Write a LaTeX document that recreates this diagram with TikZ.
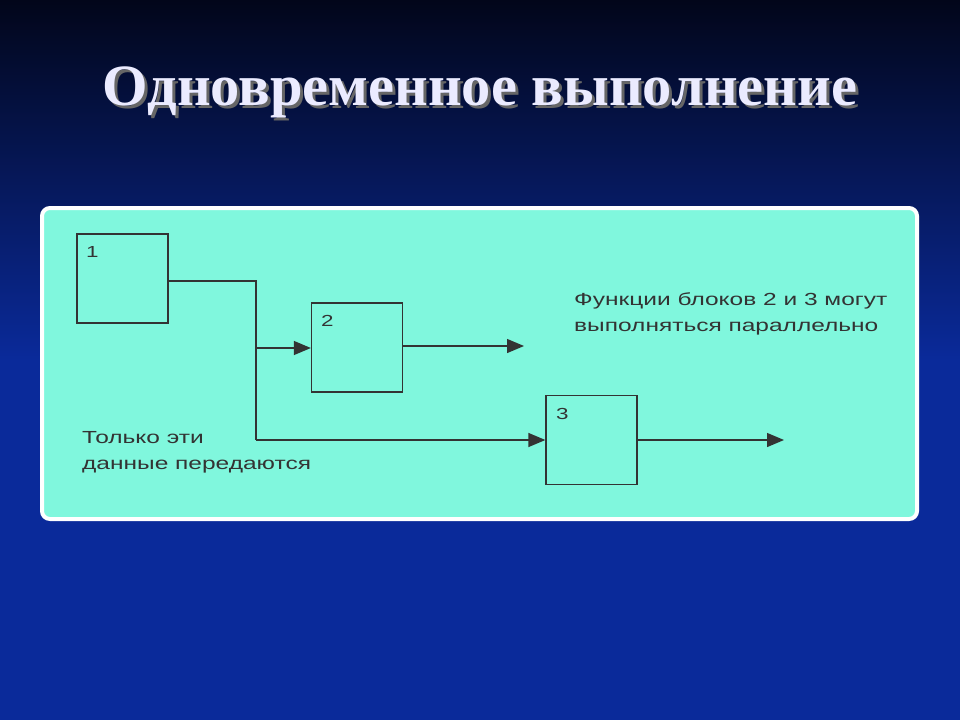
\documentclass[tikz,border=0pt]{standalone}
\usepackage{fontspec}
\setmainfont{Liberation Serif}
\newfontfamily\lab[FakeStretch=1.4]{Liberation Sans}
\usetikzlibrary{arrows.meta}
\definecolor{bgtop}{HTML}{02061A}
\definecolor{bgbot}{HTML}{0A2A9A}
\definecolor{panel}{HTML}{80F7DD}
\definecolor{ink}{HTML}{333333}
\tikzset{
  blk/.style={draw=ink, line width=1.3pt, minimum width=91pt, minimum height=89pt, inner sep=0pt},
  wire/.style={draw=ink, line width=1.3pt},
  arr/.style={wire, -{Triangle[length=17pt,width=14pt]}},
  lbl/.style={font=\lab\fontsize{17.5}{26}\selectfont, text=ink, align=left, inner sep=0pt},
  num/.style={font=\lab\fontsize{16}{18}\selectfont, text=ink, inner sep=0pt}
}
\begin{document}
\begin{tikzpicture}[x=1pt,y=-1pt]
\useasboundingbox (0,0) rectangle (960,720);
\shade[top color=bgtop, bottom color=bgbot] (0,0) rectangle (960,360);
\fill[bgbot] (0,360) rectangle (960,720);
\node[font=\bfseries\fontsize{58.5}{64}\selectfont, text=black!60] (shadow) at (483,95) {Одновременное выполнение};
\node[font=\bfseries\fontsize{58.5}{64}\selectfont, text=white!92!blue] (title) at (480,92) {Одновременное выполнение};
\draw[white, line width=4pt, fill=panel, rounded corners=8pt] (42,208) rectangle (917,519);
\node[blk] (b1) at (122.5,278.5) {};
\node[blk] (b2) at (357,347.5) {};
\node[blk] (b3) at (591.5,440) {};
\node[num, anchor=north west] at (86,246) {1};
\node[num, anchor=north west] at (321,315) {2};
\node[num, anchor=north west] at (556,408) {3};
\coordinate (j1) at (256,281);
\coordinate (j2) at (256,348);
\coordinate (j3) at (256,440);
\coordinate (o2) at (524,346);
\coordinate (o3) at (784,440);
\draw[wire] (b1.east |- j1) -- (j1) -- (j3);
\draw[arr] (j2) -- (b2.west |- j2);
\draw[arr] (j3) -- (b3.west);
\draw[arr] (b2.east |- o2) -- (o2);
\draw[arr] (b3.east) -- (o3);
\node[lbl, anchor=north west] (t1) at (574,292) {Функции блоков 2 и 3 могут\\выполняться параллельно};
\node[lbl, anchor=north west] (t2) at (82,431) {Только эти\\данные передаются};
\end{tikzpicture}
\end{document}
